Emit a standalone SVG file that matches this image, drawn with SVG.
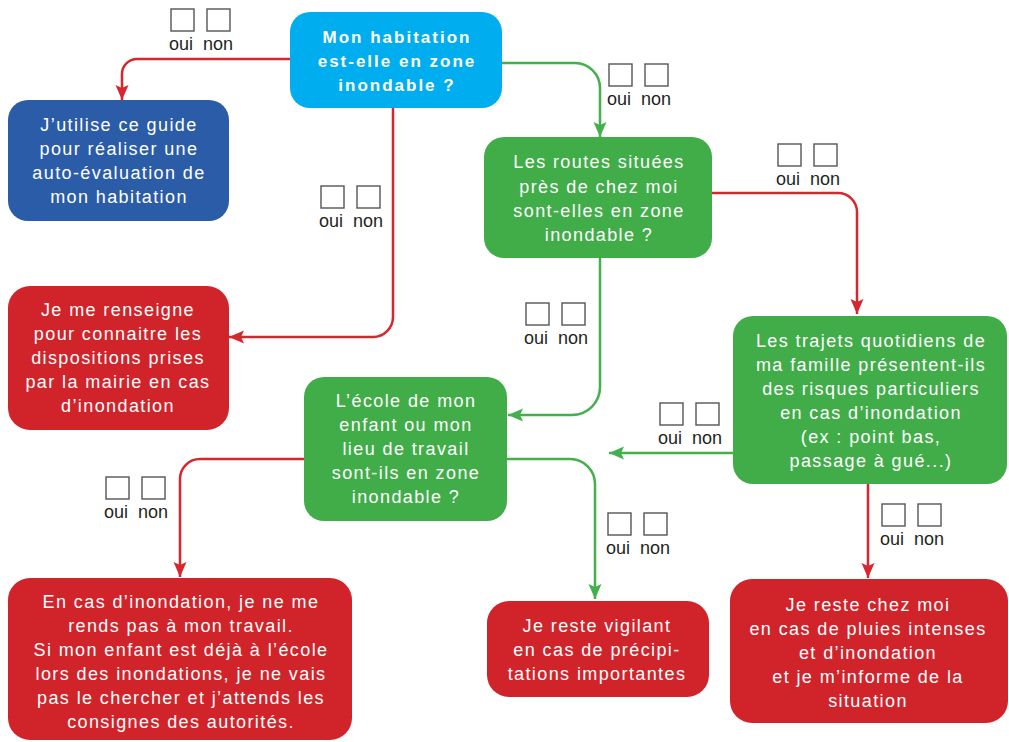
<svg xmlns="http://www.w3.org/2000/svg" width="1009" height="742" viewBox="0 0 1009 742">
<style>
.t{font-family:"Liberation Sans",Arial,sans-serif;font-size:18px;fill:#fff;letter-spacing:1.4px;text-anchor:middle}
.tb{font-family:"Liberation Sans",Arial,sans-serif;font-size:17px;font-weight:bold;fill:#fff;letter-spacing:2px;text-anchor:middle}
.cb{fill:#fff;stroke:#555;stroke-width:1.4}
.lb{font-family:"Liberation Sans",Arial,sans-serif;font-size:18px;fill:#231f20}
.r{fill:none;stroke:#d7262d;stroke-width:2.5}
.g{fill:none;stroke:#43b14b;stroke-width:2.5}
.red{fill:#d1232a}.grn{fill:#41ad49}
</style>
<defs>
<marker id="ar" markerUnits="userSpaceOnUse" markerWidth="16" markerHeight="14" refX="15" refY="6.5" orient="auto"><path d="M0,0 L15,6.5 L0,13 L3,6.5 z" fill="#d7262d"/></marker>
<marker id="ag" markerUnits="userSpaceOnUse" markerWidth="16" markerHeight="14" refX="15" refY="6.5" orient="auto"><path d="M0,0 L15,6.5 L0,13 L3,6.5 z" fill="#43b14b"/></marker>
</defs>
<rect width="1009" height="742" fill="#fff"/>
<g id="connectors">
<path class="r" d="M290,59 H137 A15,15 0 0 0 122,74 V100" marker-end="url(#ar)"/>
<path class="g" d="M502,63 H575 A25,25 0 0 1 600,88 V137" marker-end="url(#ag)"/>
<path class="r" d="M712,193 H838 A19,19 0 0 1 857,212 V314" marker-end="url(#ar)"/>
<path class="r" d="M393,108 V317 A20,20 0 0 1 373,337 H229" marker-end="url(#ar)"/>
<path class="g" d="M600,258 V387 A28,28 0 0 1 572,415 H508" marker-end="url(#ag)"/>
<path class="g" d="M733,453 H609" marker-end="url(#ag)"/>
<path class="r" d="M304,459 H200 A20,20 0 0 0 180,479 V577" marker-end="url(#ar)"/>
<path class="g" d="M507,459 H570 A25,25 0 0 1 595,484 V599" marker-end="url(#ag)"/>
<path class="r" d="M868,484 V578" marker-end="url(#ar)"/>
</g>
<g id="checkboxes">
<g><rect class="cb" x="171" y="9" width="23" height="22"/><rect class="cb" x="207" y="9" width="23" height="22"/><text class="lb" x="169" y="50">oui</text><text class="lb" x="203" y="50">non</text></g>
<g><rect class="cb" x="609" y="64" width="23" height="22"/><rect class="cb" x="645" y="64" width="23" height="22"/><text class="lb" x="607" y="105">oui</text><text class="lb" x="641" y="105">non</text></g>
<g><rect class="cb" x="778" y="144" width="23" height="22"/><rect class="cb" x="814" y="144" width="23" height="22"/><text class="lb" x="776" y="185">oui</text><text class="lb" x="810" y="185">non</text></g>
<g><rect class="cb" x="321" y="186" width="23" height="22"/><rect class="cb" x="357" y="186" width="23" height="22"/><text class="lb" x="319" y="227">oui</text><text class="lb" x="353" y="227">non</text></g>
<g><rect class="cb" x="526" y="303" width="23" height="22"/><rect class="cb" x="562" y="303" width="23" height="22"/><text class="lb" x="524" y="344">oui</text><text class="lb" x="558" y="344">non</text></g>
<g><rect class="cb" x="660" y="403" width="23" height="22"/><rect class="cb" x="696" y="403" width="23" height="22"/><text class="lb" x="658" y="444">oui</text><text class="lb" x="692" y="444">non</text></g>
<g><rect class="cb" x="106" y="477" width="23" height="22"/><rect class="cb" x="142" y="477" width="23" height="22"/><text class="lb" x="104" y="518">oui</text><text class="lb" x="138" y="518">non</text></g>
<g><rect class="cb" x="882" y="504" width="23" height="22"/><rect class="cb" x="918" y="504" width="23" height="22"/><text class="lb" x="880" y="545">oui</text><text class="lb" x="914" y="545">non</text></g>
<g><rect class="cb" x="608" y="513" width="23" height="22"/><rect class="cb" x="644" y="513" width="23" height="22"/><text class="lb" x="606" y="554">oui</text><text class="lb" x="640" y="554">non</text></g>
</g>
<g id="n1"><rect x="290" y="12" width="212" height="96" rx="20" fill="#00aeef"/>
<text class="tb" x="397" y="43">Mon habitation</text><text class="tb" x="397" y="67">est-elle en zone</text><text class="tb" x="397" y="91">inondable ?</text></g>
<g id="n2"><rect x="8" y="100" width="221" height="121" rx="20" fill="#2a5ca8"/>
<text class="t" x="119" y="131">J’utilise ce guide</text><text class="t" x="119" y="155">pour réaliser une</text><text class="t" x="119" y="179">auto-évaluation de</text><text class="t" x="119" y="203">mon habitation</text></g>
<g id="n3"><rect class="grn" x="484" y="137" width="228" height="121" rx="20"/>
<text class="t" x="599" y="168">Les routes situées</text><text class="t" x="599" y="193">près de chez moi</text><text class="t" x="599" y="217">sont-elles en zone</text><text class="t" x="599" y="241">inondable ?</text></g>
<g id="n4"><rect class="grn" x="733" y="316" width="274" height="168" rx="20"/>
<text class="t" x="871" y="347">Les trajets quotidiens de</text><text class="t" x="871" y="371">ma famille présentent-ils</text><text class="t" x="871" y="395">des risques particuliers</text><text class="t" x="871" y="419">en cas d’inondation</text><text class="t" x="871" y="443">(ex : point bas,</text><text class="t" x="871" y="467">passage à gué...)</text></g>
<g id="n5"><rect class="grn" x="304" y="377" width="203" height="144" rx="20"/>
<text class="t" x="406" y="407">L’école de mon</text><text class="t" x="406" y="431">enfant ou mon</text><text class="t" x="406" y="455">lieu de travail</text><text class="t" x="406" y="479">sont-ils en zone</text><text class="t" x="406" y="503">inondable ?</text></g>
<g id="n6"><rect class="red" x="8" y="286" width="221" height="144" rx="22"/>
<text class="t" x="118" y="316">Je me renseigne</text><text class="t" x="118" y="340">pour connaitre les</text><text class="t" x="118" y="364">dispositions prises</text><text class="t" x="118" y="388">par la mairie en cas</text><text class="t" x="118" y="412">d’inondation</text></g>
<g id="n7"><rect class="red" x="8" y="578" width="344" height="162" rx="22"/>
<text class="t" x="181" y="608">En cas d’inondation, je ne me</text><text class="t" x="181" y="632">rends pas à mon travail.</text><text class="t" x="181" y="656">Si mon enfant est déjà à l’école</text><text class="t" x="181" y="680">lors des inondations, je ne vais</text><text class="t" x="181" y="704">pas le chercher et j’attends les</text><text class="t" x="181" y="728">consignes des autorités.</text></g>
<g id="n8"><rect class="red" x="487" y="601" width="222" height="96" rx="22"/>
<text class="t" x="597" y="632">Je reste vigilant</text><text class="t" x="597" y="656">en cas de précipi-</text><text class="t" x="597" y="680">tations importantes</text></g>
<g id="n9"><rect class="red" x="730" y="579" width="278" height="144" rx="22"/>
<text class="t" x="868" y="611">Je reste chez moi</text><text class="t" x="868" y="635">en cas de pluies intenses</text><text class="t" x="868" y="659">et d’inondation</text><text class="t" x="868" y="683">et je m’informe de la</text><text class="t" x="868" y="707">situation</text></g>
</svg>
